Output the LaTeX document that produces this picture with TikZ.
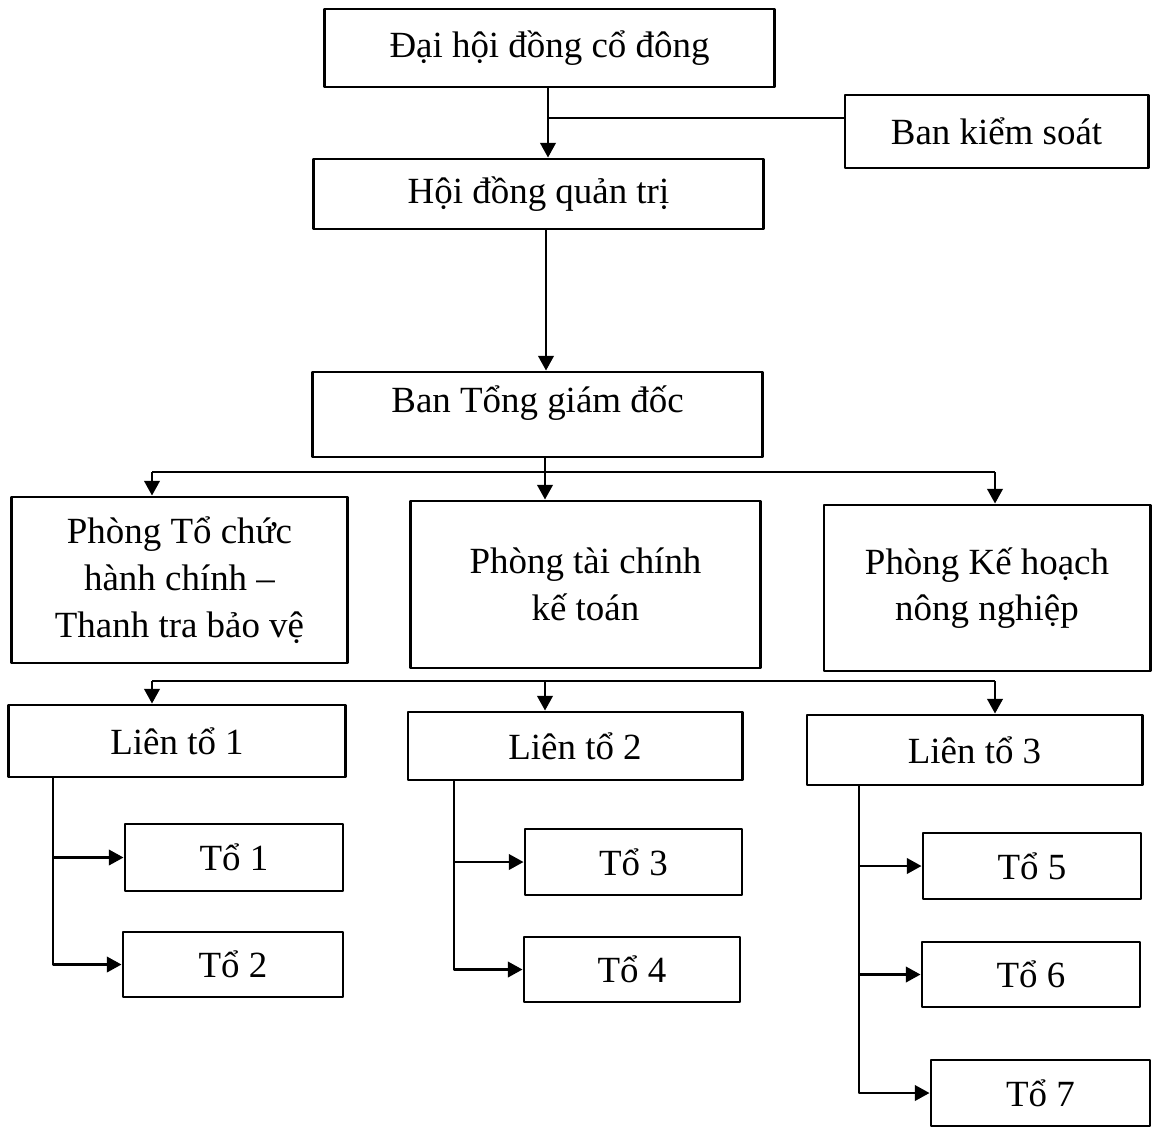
\documentclass[tikz,border=0pt]{standalone}
\usepackage{fontspec}
\setmainfont{Liberation Serif}
\usetikzlibrary{arrows.meta}

\begin{document}
\begin{tikzpicture}[x=0.01cm, y=-0.01cm, line join=round, >={Triangle[length=4.2pt,width=4.4pt]},
  box/.style={draw, line width=0.8pt, inner sep=2pt, align=center, font=\fontsize{10.5}{13.3}\selectfont},
  link/.style={line width=0.75pt}]
\useasboundingbox (0,0) rectangle (1152,1127);

% top levels
\node[box, minimum width=4.49cm, minimum height=0.78cm] (dhdcd) at (549.5,48) {Đại hội đồng cổ đông};
\node[box, minimum width=3.03cm, minimum height=0.73cm] (bks) at (996.5,131.5) {Ban kiểm soát};
\node[box, minimum width=4.49cm, minimum height=0.70cm] (hdqt) at (538.5,194) {Hội đồng quản trị};
\node[box, minimum width=4.49cm, minimum height=0.85cm, text depth=9pt] (btgd) at (537.5,414.5) {Ban Tổng giám đốc};

% phong ban
\node[box, minimum width=3.35cm, minimum height=1.66cm] (ptc) at (179.5,580) {Phòng Tổ chức\\hành chính –\\Thanh tra bảo vệ};
\node[box, minimum width=3.49cm, minimum height=1.67cm] (ptckt) at (585.5,584.5) {Phòng tài chính\\kế toán};
\node[box, minimum width=3.26cm, minimum height=1.66cm] (pkh) at (987,588) {Phòng Kế hoạch\\nông nghiệp};

% lien to
\node[box, minimum width=3.36cm, minimum height=0.72cm] (lt1) at (177,741) {Liên tổ 1};
\node[box, minimum width=3.34cm, minimum height=0.68cm] (lt2) at (575,746) {Liên tổ 2};
\node[box, minimum width=3.35cm, minimum height=0.70cm] (lt3) at (974.5,750) {Liên tổ 3};

% to
\node[box, minimum width=2.18cm, minimum height=0.67cm] (t1) at (234,857.5) {Tổ 1};
\node[box, minimum width=2.20cm, minimum height=0.65cm] (t2) at (233,964.5) {Tổ 2};
\node[box, minimum width=2.17cm, minimum height=0.66cm] (t3) at (633.5,862) {Tổ 3};
\node[box, minimum width=2.16cm, minimum height=0.65cm] (t4) at (632,969.5) {Tổ 4};
\node[box, minimum width=2.18cm, minimum height=0.66cm] (t5) at (1032,866) {Tổ 5};
\node[box, minimum width=2.18cm, minimum height=0.65cm] (t6) at (1031,974.5) {Tổ 6};
\node[box, minimum width=2.19cm, minimum height=0.66cm] (t7) at (1040.5,1093) {Tổ 7};

% connectors
\coordinate (j1) at (548,118);
\draw[link,->] (dhdcd.south -| j1) -- (hdqt.north -| j1);
\draw[link] (j1) -- (j1 -| bks.west);
\coordinate (m1) at (546,0);
\draw[link,->] (hdqt.south -| m1) -- (btgd.north -| m1);

\coordinate (a1) at (152,472);
\coordinate (a2) at (545,472);
\coordinate (a3) at (995,472);
\draw[link] (btgd.south -| a2) -- (a2);
\draw[link] (a1) -- (a3);
\draw[link,->] (a1) -- (a1 |- ptc.north);
\draw[link,->] (a2) -- (a2 |- ptckt.north);
\draw[link,->] (a3) -- (a3 |- pkh.north);

\coordinate (b1) at (152,681);
\coordinate (b2) at (545,681);
\coordinate (b3) at (995,681);
\draw[link] (b1) -- (b3);
\draw[link,->] (b1) -- (b1 |- lt1.north);
\draw[link,->] (b2) -- (b2 |- lt2.north);
\draw[link,->] (b3) -- (b3 |- lt3.north);

\coordinate (x1) at (53,0);
\coordinate (x2) at (454,0);
\coordinate (x3) at (859,0);
\draw[link,->] (lt1.south -| x1) |- (t2.west);
\draw[link,->] (t1.west -| x1) -- (t1.west);
\draw[link,->] (lt2.south -| x2) |- (t4.west);
\draw[link,->] (t3.west -| x2) -- (t3.west);
\draw[link,->] (lt3.south -| x3) |- (t7.west);
\draw[link,->] (t5.west -| x3) -- (t5.west);
\draw[link,->] (t6.west -| x3) -- (t6.west);
\end{tikzpicture}
\end{document}
